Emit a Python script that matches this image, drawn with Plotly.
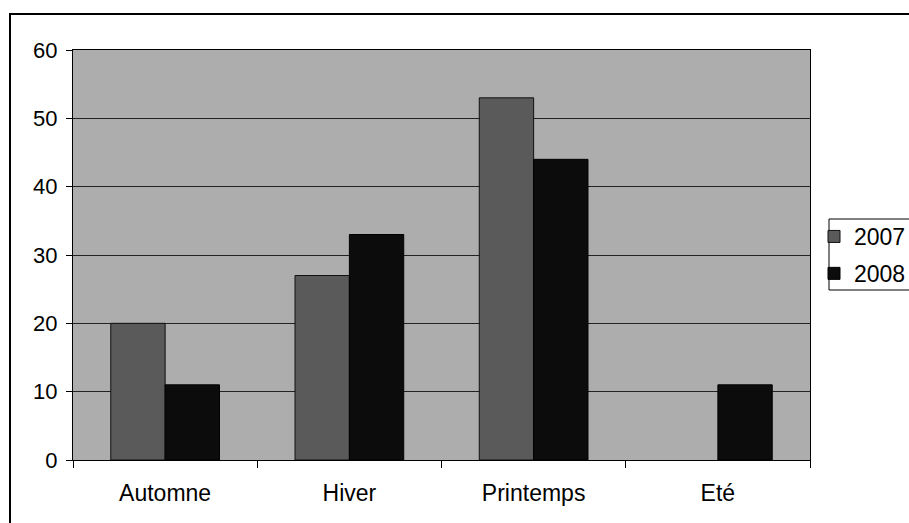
import plotly.graph_objects as go

categories = ["Automne", "Hiver", "Printemps", "Eté"]
series_names = ["2007", "2008"]
values_2007 = [20, 27, 53, None]
values_2008 = [11, 33, 44, 11]
y_ticks = [0, 10, 20, 30, 40, 50, 60]

fig = go.Figure()
fig.add_trace(go.Bar(name=series_names[0], x=categories, y=values_2007, legendgroup="a",
                     marker=dict(color="#5a5a5a", line=dict(color="#111111", width=1))))
fig.add_trace(go.Bar(name=series_names[1], x=categories, y=values_2008, legendgroup="b",
                     marker=dict(color="#0c0c0c", line=dict(color="#000000", width=1))))

W, H = 909, 523
L, R, T, B = 73, 810, 50, 460
pw, ph = R - L, B - T

def px(x):
    return (x - L) / pw

def py(y):
    return (B - y) / ph

fig.update_layout(
    width=W, height=H,
    margin=dict(l=L, r=W - R, t=T, b=H - B, pad=0, autoexpand=False),
    paper_bgcolor="white",
    plot_bgcolor="#adadad",
    barmode="group",
    bargap=0.41,
    bargroupgap=0,
    font=dict(family="Liberation Sans, Arial, sans-serif", color="#000000", size=22),
    legend=dict(
        x=px(814), y=py(215), xanchor="left", yanchor="top",
        bgcolor="rgba(0,0,0,0)", borderwidth=0,
        font=dict(size=23), itemwidth=30, tracegroupgap=4,
    ),
    xaxis=dict(
        type="category", tickson="boundaries", ticks="outside", ticklen=7,
        tickcolor="#000000", showline=True, linecolor="#000000", linewidth=1,
        mirror=True, tickfont=dict(size=23), showgrid=False,
        ticklabelstandoff=12,
    ),
    yaxis=dict(
        range=[0, 60], tickvals=y_ticks, ticks="outside", ticklen=6,
        tickcolor="#000000", showline=True, linecolor="#000000", linewidth=1,
        mirror=True, showgrid=True, gridcolor="#222222", gridwidth=1,
        zeroline=False, tickfont=dict(size=22), ticklabelstandoff=4,
    ),
    shapes=[
        dict(type="rect", xref="paper", yref="paper",
             x0=px(10), x1=px(930), y0=py(540), y1=py(14),
             line=dict(color="#000000", width=2), fillcolor="rgba(0,0,0,0)", layer="below"),
        dict(type="rect", xref="paper", yref="paper",
             x0=px(829), x1=px(940), y0=py(290), y1=py(219),
             line=dict(color="#000000", width=1), fillcolor="white", layer="below"),
    ],
)

fig.write_html("out.html")
